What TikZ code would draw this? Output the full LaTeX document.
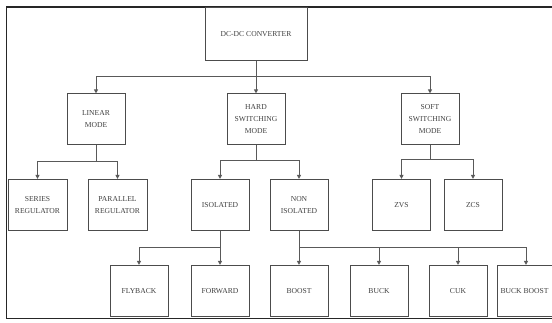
\documentclass[tikz,border=0pt]{standalone}
\usepackage{fontspec}
\setmainfont{Liberation Serif}
\usetikzlibrary{arrows.meta}
\begin{document}
\begin{tikzpicture}[x=1pt,y=-1pt,
  box/.style={draw=black!70,line width=1pt,fill=white,minimum width=58pt,minimum height=51pt,
    inner sep=1pt,align=center,font=\fontsize{7.6}{12}\selectfont,text=black!75},
  conn/.style={draw=black!65,line width=1pt},
  arr/.style={conn,-{Triangle[length=4pt,width=3.8pt]}}]
\useasboundingbox (0,0) rectangle (552,323);
\draw[line width=1.6pt,black!85] (6.5,7) rectangle (552.5,318.5);
% nodes
\node[box,minimum width=102pt,minimum height=53pt] (top) at (256,34.5) {DC-DC CONVERTER};
\node[box] (linear) at (96,119.5) {LINEAR\\MODE};
\node[box] (hard) at (256,119.5) {HARD\\SWITCHING\\MODE};
\node[box] (soft) at (430,119.5) {SOFT\\SWITCHING\\MODE};
\node[box,minimum width=59pt] (series) at (37.5,205) {SERIES\\REGULATOR};
\node[box,minimum width=59pt] (parallel) at (117.5,205) {PARALLEL\\REGULATOR};
\node[box] (iso) at (220,205) {ISOLATED};
\node[box] (noniso) at (299,205) {NON\\ISOLATED};
\node[box] (zvs) at (401.5,205) {ZVS};
\node[box] (zcs) at (473,205) {ZCS};
\node[box] (flyback) at (139,291) {FLYBACK};
\node[box] (forward) at (220,291) {FORWARD};
\node[box] (boost) at (299,291) {BOOST};
\node[box] (buck) at (379,291) {BUCK};
\node[box] (cuk) at (458,291) {CUK};
\node[box,minimum width=55pt] (bb) at (524.5,291) {BUCK BOOST};
% junctions
\coordinate (j0) at (256,77);
\coordinate (j1) at (96,162);
\coordinate (j2) at (256,161);
\coordinate (j3) at (430,160);
\coordinate (j4) at (220,248);
\coordinate (j5) at (299,248);
% connectors
\draw[conn] (top.south) -- (j0);
\draw[arr] (j0) -| (linear.north);
\draw[arr] (j0) -- (hard.north);
\draw[arr] (j0) -| (soft.north);
\draw[conn] (linear.south) -- (j1);
\draw[arr] (j1) -| (series.north);
\draw[arr] (j1) -| (parallel.north);
\draw[conn] (hard.south) -- (j2);
\draw[arr] (j2) -| (iso.north);
\draw[arr] (j2) -| (noniso.north);
\draw[conn] (soft.south) -- (j3);
\draw[arr] (j3) -| (zvs.north);
\draw[arr] (j3) -| (zcs.north);
\draw[conn] (iso.south) -- (j4);
\draw[arr] (j4) -| (flyback.north);
\draw[arr] (j4) -- (forward.north);
\draw[conn] (noniso.south) -- (j5);
\draw[arr] (j5) -- (boost.north);
\draw[arr] (j5) -| (buck.north);
\draw[arr] (j5) -| (cuk.north);
\draw[arr] (j5) -| ([xshift=1.5pt]bb.north);
\end{tikzpicture}
\end{document}
